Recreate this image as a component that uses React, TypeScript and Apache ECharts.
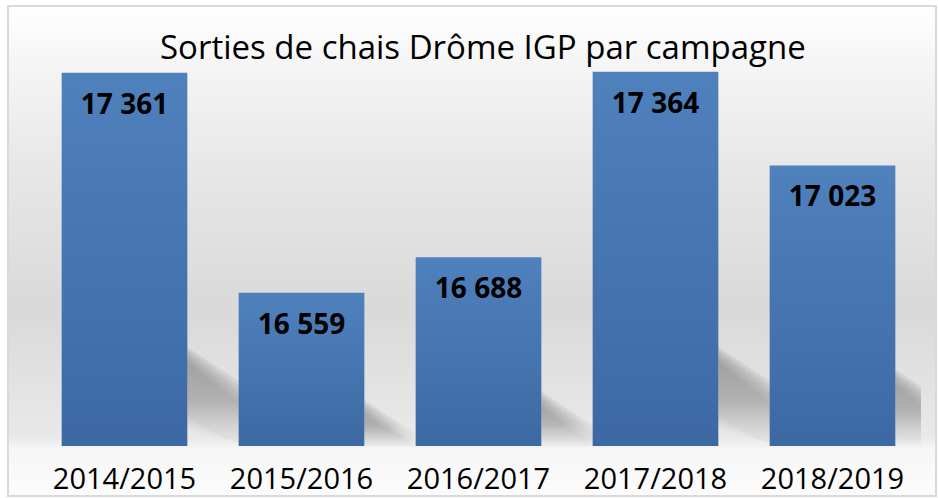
import React, { useEffect, useRef } from "react";
import * as echarts from "echarts";

const categories = ["2014/2015", "2015/2016", "2016/2017", "2017/2018", "2018/2019"];
const values = [17361, 16559, 16688, 17364, 17023];
const titleText = "Sorties de chais Drôme IGP par campagne";
const axisMin = 16000;
const axisMax = 17400;

export default function App() {
  const ref = useRef<HTMLDivElement>(null);
  useEffect(() => {
    document.body.style.margin = "0";
    const chart = echarts.init(ref.current!, null, { renderer: "svg" });
    const fmt = (v: number) => {
      const s = String(Math.round(v));
      return s.replace(/\B(?=(\d{3})+(?!\d))/g, " ");
    };
    const barFrac = 0.71;
    chart.setOption({
      animation: false,
      backgroundColor: "#ffffff",
      graphic: [
        {
          type: "rect",
          shape: { x: 8, y: 6, width: 928, height: 490 },
          style: {
            fill: new echarts.graphic.LinearGradient(0, 0, 0, 1, [
              { offset: 0, color: "#ffffff" },
              { offset: 0.12, color: "#f5f5f5" },
              { offset: 0.35, color: "#e6e6e6" },
              { offset: 0.62, color: "#d9d9d9" },
              { offset: 0.88, color: "#e9e9e9" },
              { offset: 0.905, color: "#f6f6f6" },
              { offset: 1, color: "#fcfcfc" },
            ]),
            stroke: "#d9d9d9",
            lineWidth: 2,
          },
          z: -10,
          silent: true,
        },
      ],
      title: {
        text: titleText,
        left: 155,
        top: 25,
        textStyle: {
          fontFamily: "Open Sans",
          fontWeight: "normal",
          fontSize: 33,
          color: "#000000",
        },
      },
      grid: { left: 36, right: 17, top: 62, bottom: 52, containLabel: false },
      xAxis: {
        type: "category",
        data: categories,
        axisLine: { show: false },
        axisTick: { show: false },
        axisLabel: {
          interval: 0,
          fontFamily: "Open Sans",
          fontSize: 29,
          lineHeight: 29,
          color: "#000000",
          margin: 17,
        },
      },
      yAxis: {
        type: "value",
        min: axisMin,
        max: axisMax,
        show: false,
        splitLine: { show: false },
      },
      series: [
        {
          type: "custom",
          silent: true,
          z: 1,
          clip: true,
          data: values.map((v, i) => [i, v]),
          renderItem: (params: any, api: any) => {
            const idx = api.value(0);
            const val = api.value(1);
            const top = api.coord([idx, val]);
            const base = api.coord([idx, axisMin]);
            const band = api.size([1, 0])[0];
            const bw = band * barFrac;
            const R = top[0] + bw / 2;
            const h = base[1] - top[1];
            const yT = base[1] - 0.24 * h;
            const by = base[1];
            const layers = [] as any[];
            const n = 6;
            for (let k = 0; k < n; k++) {
              const e = (n - 1 - k) * 3;
              const pts = [
                [R, yT + 6 - e],
                [R + 52 + e * 0.6, Math.min(yT + 46 - e, by)],
                [R + 52 + e * 0.6, Math.min(yT + 96 + e, by)],
                [R, Math.min(yT + 60 + e, by)],
              ];
              layers.push({
                type: "polygon",
                shape: { points: pts },
                style: {
                  fill: new echarts.graphic.LinearGradient(0, 0, 0, 1, [
                    { offset: 0, color: "rgba(140,140,140,0.22)" },
                    { offset: 0.5, color: "rgba(150,150,150,0.16)" },
                    { offset: 1, color: "rgba(200,200,200,0.02)" },
                  ]),
                },
              });
            }
            return { type: "group", children: layers };
          },
        },
        {
          type: "bar",
          z: 2,
          data: values,
          barWidth: barFrac * 100 + "%",
          itemStyle: {
            color: new echarts.graphic.LinearGradient(0, 0, 0, 1, [
              { offset: 0, color: "#4f81bd" },
              { offset: 1, color: "#3c69a3" },
            ]),
          },
          label: {
            show: true,
            position: "insideTop",
            distance: 16,
            formatter: (p: any) => fmt(p.value),
            fontFamily: "Open Sans",
            fontWeight: "bold",
            fontSize: 28,
            color: "#000000",
          },
        },
      ],
    });
    return () => chart.dispose();
  }, []);
  return <div ref={ref} style={{ width: 938, height: 498 }} />;
}
